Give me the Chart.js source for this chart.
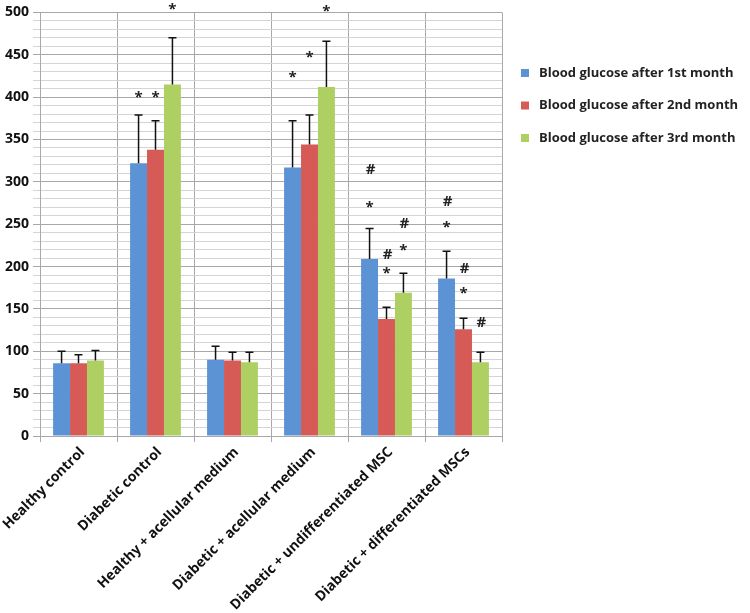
<!DOCTYPE html>
<html>
<head>
<meta charset="utf-8">
<script src="https://cdn.jsdelivr.net/npm/chart.js@4.4.0/dist/chart.umd.min.js"></script>
<style>
  html, body { margin: 0; padding: 0; background: #fff; }
  #wrap { width: 750px; height: 613px; }
</style>
</head>
<body>
<div id="wrap"><canvas id="glucoseChart"></canvas></div>
<script>
// groups on the x axis
const groups = [
  'Healthy control',
  'Diabetic control',
  'Healthy + acellular medium',
  'Diabetic + acellular medium',
  'Diabetic + undifferentiated MSC',
  'Diabetic + differentiated MSCs'
];
const seriesNames = [
  'Blood glucose after 1st month',
  'Blood glucose after 2nd month',
  'Blood glucose after 3rd month'
];

// mean blood glucose
const month1 = [86, 322, 90, 317, 209, 186];
const month2 = [86, 338, 89, 344, 138, 126];
const month3 = [89, 415, 87, 412, 169, 87];

// upper error (SD)
const err1 = [14, 57, 16, 55, 36, 32];
const err2 = [10, 34, 10, 35, 14, 13];
const err3 = [12, 55, 12, 54, 23, 12];

// where the significance marks sit (value on y axis), null = none
const star1 = [null, 403, null, 426, 273, 249];
const star2 = [null, 403, null, 450, 195, 171];
const star3 = [null, 507, null, 504, 222, null];
const hash1 = [null, null, null, null, 314, 277];
const hash2 = [null, null, null, null, 214, 198];
const hash3 = [null, null, null, null, 250, 134];

const yTicks = [0, 50, 100, 150, 200, 250, 300, 350, 400, 450, 500];

const colors = ['#5b93d4', '#d65a56', '#aecf62'];
const FONT = '"Open Sans", "Noto Sans", sans-serif';

const errors = [err1, err2, err3];
const marks = [
  { star: star1, hash: hash1 },
  { star: star2, hash: hash2 },
  { star: star3, hash: hash3 }
];

// error bars (up only) and * / # marks
const errorBarPlugin = {
  id: 'errorBars',
  afterDatasetsDraw(chart) {
    const ctx = chart.ctx;
    const y = chart.scales.y;
    ctx.save();
    chart.data.datasets.forEach((ds, i) => {
      const meta = chart.getDatasetMeta(i);
      meta.data.forEach((bar, j) => {
        const top = y.getPixelForValue(ds.data[j] + errors[i][j]);
        ctx.strokeStyle = '#111';
        ctx.lineWidth = 1.5;
        ctx.beginPath();
        ctx.moveTo(bar.x, bar.y);
        ctx.lineTo(bar.x, top);
        ctx.moveTo(bar.x - 4, top);
        ctx.lineTo(bar.x + 4, top);
        ctx.stroke();

        ctx.fillStyle = '#222';
        ctx.textAlign = 'center';
        ctx.textBaseline = 'middle';
        if (marks[i].star[j] != null) {
          ctx.font = 'bold 15px ' + FONT;
          ctx.fillText('*', bar.x, y.getPixelForValue(marks[i].star[j]) + 3);
        }
        if (marks[i].hash[j] != null) {
          ctx.font = 'bold 15px ' + FONT;
          ctx.fillText('#', bar.x + 1, y.getPixelForValue(marks[i].hash[j]));
        }
      });
    });
    ctx.restore();
  }
};

// legend to the right of the plot
const sideLegendPlugin = {
  id: 'sideLegend',
  afterDraw(chart) {
    const ctx = chart.ctx;
    const x0 = chart.chartArea.right + 19;
    ctx.save();
    ctx.font = 'bold 13px ' + FONT;
    ctx.textAlign = 'left';
    ctx.textBaseline = 'middle';
    chart.data.datasets.forEach((ds, i) => {
      const cy = 73 + i * 32.5;
      ctx.fillStyle = ds.backgroundColor;
      ctx.fillRect(x0, cy - 4, 8, 8);
      ctx.fillStyle = '#222';
      ctx.fillText(ds.label, x0 + 18, cy);
    });
    ctx.restore();
  }
};

const ctx = document.getElementById('glucoseChart').getContext('2d');
new Chart(ctx, {
  type: 'bar',
  data: {
    labels: groups,
    datasets: [
      { label: seriesNames[0], data: month1, backgroundColor: colors[0] },
      { label: seriesNames[1], data: month2, backgroundColor: colors[1] },
      { label: seriesNames[2], data: month3, backgroundColor: colors[2] }
    ]
  },
  options: {
    responsive: true,
    maintainAspectRatio: false,
    animation: false,
    layout: { padding: { top: 10, right: 248, bottom: 0, left: 0 } },
    datasets: {
      bar: { categoryPercentage: 0.66, barPercentage: 1.0 }
    },
    scales: {
      x: {
        afterFit: s => { s.height = 177; s.paddingLeft = 0; s.paddingRight = 0; },
        grid: { color: '#a8a8a8', offset: true, tickLength: 6 },
        border: { color: '#a8a8a8' },
        ticks: {
          color: '#111',
          font: { family: FONT, size: 14, weight: 'bold' },
          minRotation: 45,
          maxRotation: 45,
          labelOffset: 4,
          padding: 2
        }
      },
      y: {
        afterFit: s => { s.width = 40; },
        min: 0,
        max: 500,
        grid: {
          color: c => (c.tick && c.tick.value % 50 === 0) ? '#a8a8a8' : '#d4d4d4',
          tickLength: 7
        },
        border: { color: '#a8a8a8' },
        ticks: {
          stepSize: 10,
          autoSkip: false,
          color: '#111',
          font: { family: FONT, size: 14, weight: 'bold' },
          callback: v => yTicks.includes(v) ? v : '',
          padding: 4
        }
      }
    },
    plugins: {
      tooltip: { enabled: false },
      legend: { display: false }
    }
  },
  plugins: [errorBarPlugin, sideLegendPlugin]
});
</script>
</body>
</html>
